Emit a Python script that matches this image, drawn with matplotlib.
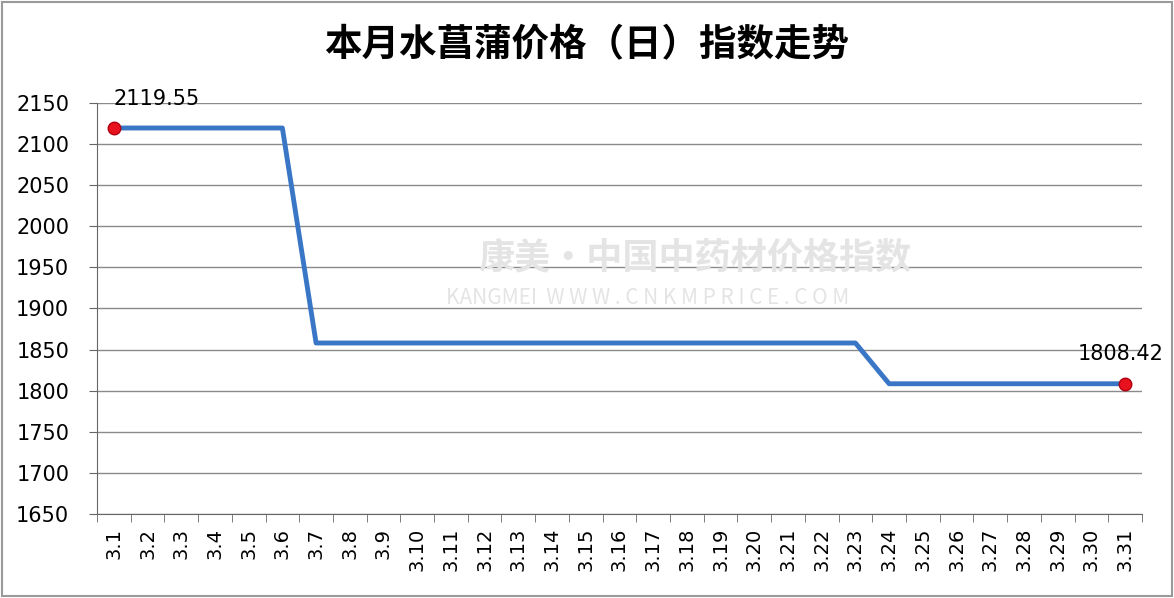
import matplotlib
matplotlib.use("Agg")
import matplotlib.pyplot as plt
from matplotlib.patches import Rectangle

plt.rcParams['font.family'] = ['Noto Sans CJK SC', 'DejaVu Sans']

# ── data ─────────────────────────────────────────────────────────────── #
dates = [f"3.{d}" for d in range(1, 32)]
values = [2119.55] * 6 + [1858.0] * 17 + [1808.42] * 8
yticks = list(range(1650, 2151, 50))
title = "本月水菖蒲价格（日）指数走势"

fig = plt.figure(figsize=(11.74, 5.98), dpi=100)
ax = fig.add_axes([0.0826, 0.1405, 0.8901, 0.6873])

x = list(range(len(dates)))
ax.plot(x, values, color="#3A76C6", linewidth=3.5, solid_joinstyle="round", zorder=3)
for i in (0, len(values) - 1):
    ax.plot(x[i], values[i], "o", color="#E8121E", markeredgecolor="#B00010",
            markersize=9, zorder=4)

ax.annotate(f"{values[0]:.2f}", (x[0], values[0]), xytext=(0, 14),
            textcoords="offset points", ha="left", va="bottom", fontsize=15,
            family="DejaVu Sans")
ax.annotate(f"{values[-1]:.2f}", (x[-1], values[-1]), xytext=(28, 14),
            textcoords="offset points", ha="right", va="bottom", fontsize=15,
            family="DejaVu Sans")

ax.set_xlim(-0.5, len(dates) - 0.5)
ax.set_ylim(1650, 2150)
ax.set_yticks(yticks)
ax.set_yticklabels([str(v) for v in yticks], fontsize=15, family="DejaVu Sans")
ax.grid(axis="y", color="#8a8a8a", linewidth=1)
ax.set_axisbelow(True)

# category labels centred, tick marks on the boundaries
ax.set_xticks(x)
ax.set_xticklabels(dates, rotation=90, fontsize=14, family="DejaVu Sans", va="top")
ax.tick_params(axis="x", which="major", length=0, pad=10)
ax.set_xticks([i - 0.5 for i in range(len(dates) + 1)], minor=True)
ax.tick_params(axis="x", which="minor", length=6, color="#666666", direction="out")
ax.tick_params(axis="y", length=6, color="#666666", direction="out", pad=14)

for s in ("top", "right"):
    ax.spines[s].set_visible(False)
ax.spines["left"].set_color("#666666")
ax.spines["bottom"].set_color("#666666")

# faint watermark
fig.text(0.592, 0.569, "康美·中国中药材价格指数", fontsize=26, color="#e4e4e4",
         ha="center", va="center", fontweight="bold", zorder=0)
fig.text(0.552, 0.502, "KANGMEI  W W W . C N K M P R I C E . C O M", fontsize=15,
         color="#e4e4e4", ha="center", va="center", zorder=0)

fig.text(0.5, 0.925, title, fontsize=27, fontweight="bold", ha="center", va="center")

fig.patches.append(Rectangle((0.002, 0.004), 0.996, 0.992, transform=fig.transFigure,
                             fill=False, edgecolor="#9a9a9a", linewidth=1.5))

fig.savefig("out.png", dpi=100)
